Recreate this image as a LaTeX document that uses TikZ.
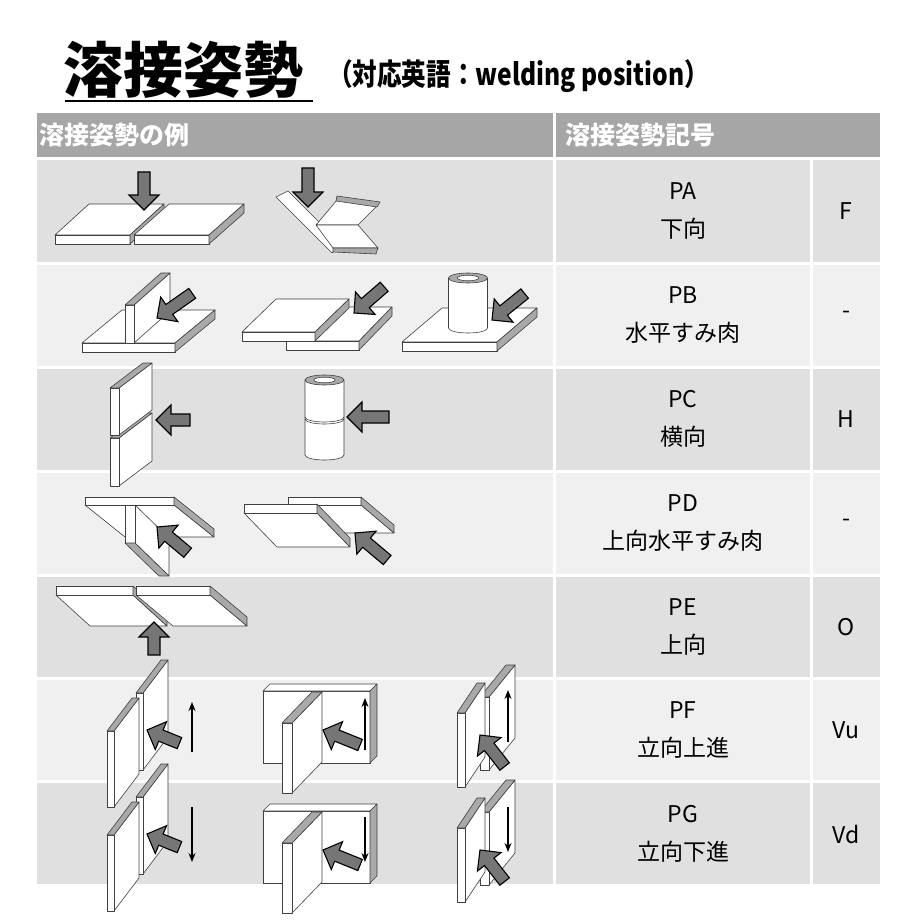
\documentclass[tikz,border=0pt]{standalone}
\usepackage{fontspec}
\usepackage{tikz}
\usetikzlibrary{calc,arrows.meta}
\setmainfont{Noto Sans CJK JP}

\definecolor{headgray}{HTML}{A6A6A6}
\definecolor{rowdark}{HTML}{E0E0E0}
\definecolor{rowlight}{HTML}{F0F0F0}
\definecolor{edgegray}{HTML}{A9A9A9}
\definecolor{arrowgray}{HTML}{767676}

\tikzset{
  face/.style={fill=white,draw=black!75,line width=.6pt,line join=round},
  edge/.style={fill=edgegray,draw=black!75,line width=.6pt,line join=round},
  arrowfill/.style={fill=arrowgray,draw=black,line width=1.1pt,line join=miter},
  thin arrow/.style={line width=1.4pt,-{Stealth[length=9pt,width=7pt]}},
  symtext/.style={font=\fontsize{23}{23}\selectfont},
  headtext/.style={font=\bfseries\fontsize{25}{25}\selectfont,text=white,anchor=west}
}

% plate: origin, u, v, thickness
\newcommand{\slab}[4]{%
  \coordinate (sa) at #1;
  \coordinate (sb) at ($(sa)+#2$);
  \coordinate (sd) at ($(sa)+#3$);
  \coordinate (sc) at ($(sb)+#3$);
  \filldraw[face] (sa)--(sb)--(sc)--(sd)--cycle;
  \filldraw[face] (sa)--(sb)--($(sb)+#4$)--($(sa)+#4$)--cycle;
  \filldraw[edge] (sb)--(sc)--($(sc)+#4$)--($(sb)+#4$)--cycle;}
% block arrow: tip, angle, length
\newcommand{\bigarrow}[3]{%
  \begin{scope}[shift={#1},rotate=#2]
    \filldraw[arrowfill] (0,0)--(-15,15)--(-15,6)--(-#3,6)--(-#3,-6)--(-15,-6)--(-15,-15)--cycle;
  \end{scope}}
% pipe: cx, top, bottom, rx
\newcommand{\pipe}[4]{%
  \filldraw[face] (#1-#4,#2)--(#1-#4,#3) arc[start angle=180,end angle=0,x radius=#4,y radius=5]--(#1+#4,#2)--cycle;
  \filldraw[edge] (#1,#2) ellipse[x radius=#4,y radius=5];
  \filldraw[face] (#1,#2) ellipse[x radius=#4*.55,y radius=2.8];}

\begin{document}
\begin{tikzpicture}[x=1pt,y=-1pt]
  \useasboundingbox (0,0) rectangle (920,920);
  % title
  \node[anchor=west,font=\bfseries\fontsize{60}{60}\selectfont,inner sep=0] (title) at (63,70) {溶接姿勢};
  \draw[line width=2.5pt] (65,101)--(313,101);
  \node[anchor=west,font=\bfseries\fontsize{30}{30}\selectfont,inner sep=0,xscale=.82] (subtitle) at (328,76) {（対応英語：welding position）};
  % header
  \fill[headgray] (37,113) rectangle (553,157);
  \fill[headgray] (556,113) rectangle (880,157);
  \node[headtext] (h1) at (36,135) {溶接姿勢の例};
  \node[headtext] (h2) at (562,135) {溶接姿勢記号};
  % rows
  \foreach \top/\bot/\col [count=\i] in {160/262/rowdark,265/366/rowlight,369/470/rowdark,473/574/rowlight,577/677/rowdark,680/780/rowlight,783/884/rowdark}{
    \fill[\col] (37,\top) rectangle (553,\bot);
    \fill[\col] (556,\top) rectangle (810,\bot);
    \fill[\col] (813,\top) rectangle (880,\bot);
  }
  % symbols
  \foreach \y/\c/\n/\s [count=\i] in {211/PA/下向/F,315/PB/水平すみ肉/-,419/PC/横向/H,523/PD/上向水平すみ肉/-,627/PE/上向/O,730/PF/立向上進/Vu,834/PG/立向下進/Vd}{
    \node[symtext] (c\i) at (683,\y-20) {\c};
    \node[symtext] (n\i) at (683,\y+18) {\n};
    \node[symtext] (s\i) at (846,\y) {\s};
  }

  % PA
  \slab{(55,235)}{(75,0)}{(34,-31)}{(0,9)}
  \slab{(134,235)}{(75,0)}{(35,-31)}{(0,9)}
  \bigarrow{(144,210)}{-90}{38}
  \filldraw[face] (276,197)--(288,191)--(342,245)--(332,253)--cycle;
  \filldraw[face] (337,200)--(377,206)--(358,225)--(316,225)--cycle;
  \filldraw[edge] (337,196)--(380,202)--(377,207)--(336,201)--cycle;
  \filldraw[face] (316,225)--(358,225)--(378,248)--(333,248)--cycle;
  \filldraw[edge] (333,248)--(378,248)--(376,254)--(333,252)--cycle;
  \bigarrow{(308,207)}{-90}{39}
  % PB
  \slab{(82,343)}{(93,0)}{(40,-33)}{(0,9)}
  \slab{(134,343)}{(0,-38)}{(36,-32)}{(-9,0)}
  \bigarrow{(157,318)}{215}{43}
  \slab{(286,341)}{(73,0)}{(33,-34)}{(0,9)}
  \slab{(242,332)}{(73,0)}{(34,-33)}{(0,9)}
  \bigarrow{(354,313)}{221}{40}
  \slab{(402,342)}{(95,0)}{(40,-34)}{(0,9)}
  \pipe{468}{278}{328}{19.5}
  \bigarrow{(492,320)}{219}{42}
  % PC
  \slab{(119,486)}{(0,-48)}{(33,-25)}{(-9,0)}
  \slab{(119,435)}{(0,-47)}{(33,-25)}{(-9,0)}
  \bigarrow{(156,420)}{180}{34}
  \pipe{324.5}{380}{455}{19.5}
  \draw[black!75,line width=.6pt] (305,417) arc[start angle=180,end angle=0,x radius=19.5,y radius=5];
  \draw[black!75,line width=.6pt] (305,419) arc[start angle=180,end angle=0,x radius=19.5,y radius=5];
  \bigarrow{(347,417)}{180}{42}
  % PD
  \slab{(85,505)}{(89,0)}{(40,32)}{(0,-8)}
  \slab{(135,505)}{(0,38)}{(34,33)}{(-10,0)}
  \bigarrow{(157,527)}{140}{40}
  \slab{(288,505)}{(73,0)}{(33,28)}{(0,-8)}
  \slab{(244,513)}{(73,0)}{(33,34)}{(0,-9)}
  \bigarrow{(355,533)}{140}{42}
  % PE
  \slab{(56,595)}{(77,0)}{(34,31)}{(0,-9)}
  \slab{(136,595)}{(74,0)}{(37,31)}{(0,-9)}
  \bigarrow{(154,622)}{90}{33}

  % PF / PG
  \foreach \d/\ya/\yb [count=\k] in {0/752/702,104/807/862}{
    \begin{scope}[yshift=-\d pt]
      \slab{(143,770)}{(0,-77)}{(25,-33)}{(-7,0)}
      \slab{(114,807)}{(0,-76)}{(25,-33)}{(-7,0)}
      \bigarrow{(147,730)}{158}{35}
    \end{scope}
    \coordinate (ta\k) at (192,\ya);
    \coordinate (tb\k) at (192,\yb);
    \draw[thin arrow] (ta\k)--(tb\k);
  }
  \foreach \d/\ya/\yb [count=\k] in {0/750/698,120/817/862}{
    \begin{scope}[yshift=-\d pt]
      \filldraw[face] (263,691) rectangle (370,763);
      \filldraw[face] (263,691)--(270,684)--(377,684)--(370,691)--cycle;
      \filldraw[edge] (370,691)--(377,684)--(377,756)--(370,763)--cycle;
      \slab{(292,793)}{(0,-70)}{(30,-31)}{(-10,0)}
      \bigarrow{(323,730)}{158}{40}
    \end{scope}
    \coordinate (wa\k) at (365,\ya);
    \coordinate (wb\k) at (365,\yb);
    \draw[thin arrow] (wa\k)--(wb\k);
  }
  \foreach \d/\ya/\yb [count=\k] in {0/742/690,115/807/852}{
    \begin{scope}[yshift=-\d pt]
      \slab{(489,770)}{(0,-73)}{(26,-32)}{(-9,0)}
      \slab{(465,787)}{(0,-74)}{(20,-30)}{(-8,0)}
      \bigarrow{(480,735)}{128}{40}
    \end{scope}
    \coordinate (va\k) at (508,\ya);
    \coordinate (vb\k) at (508,\yb);
    \draw[thin arrow] (va\k)--(vb\k);
  }
\end{tikzpicture}
\end{document}
